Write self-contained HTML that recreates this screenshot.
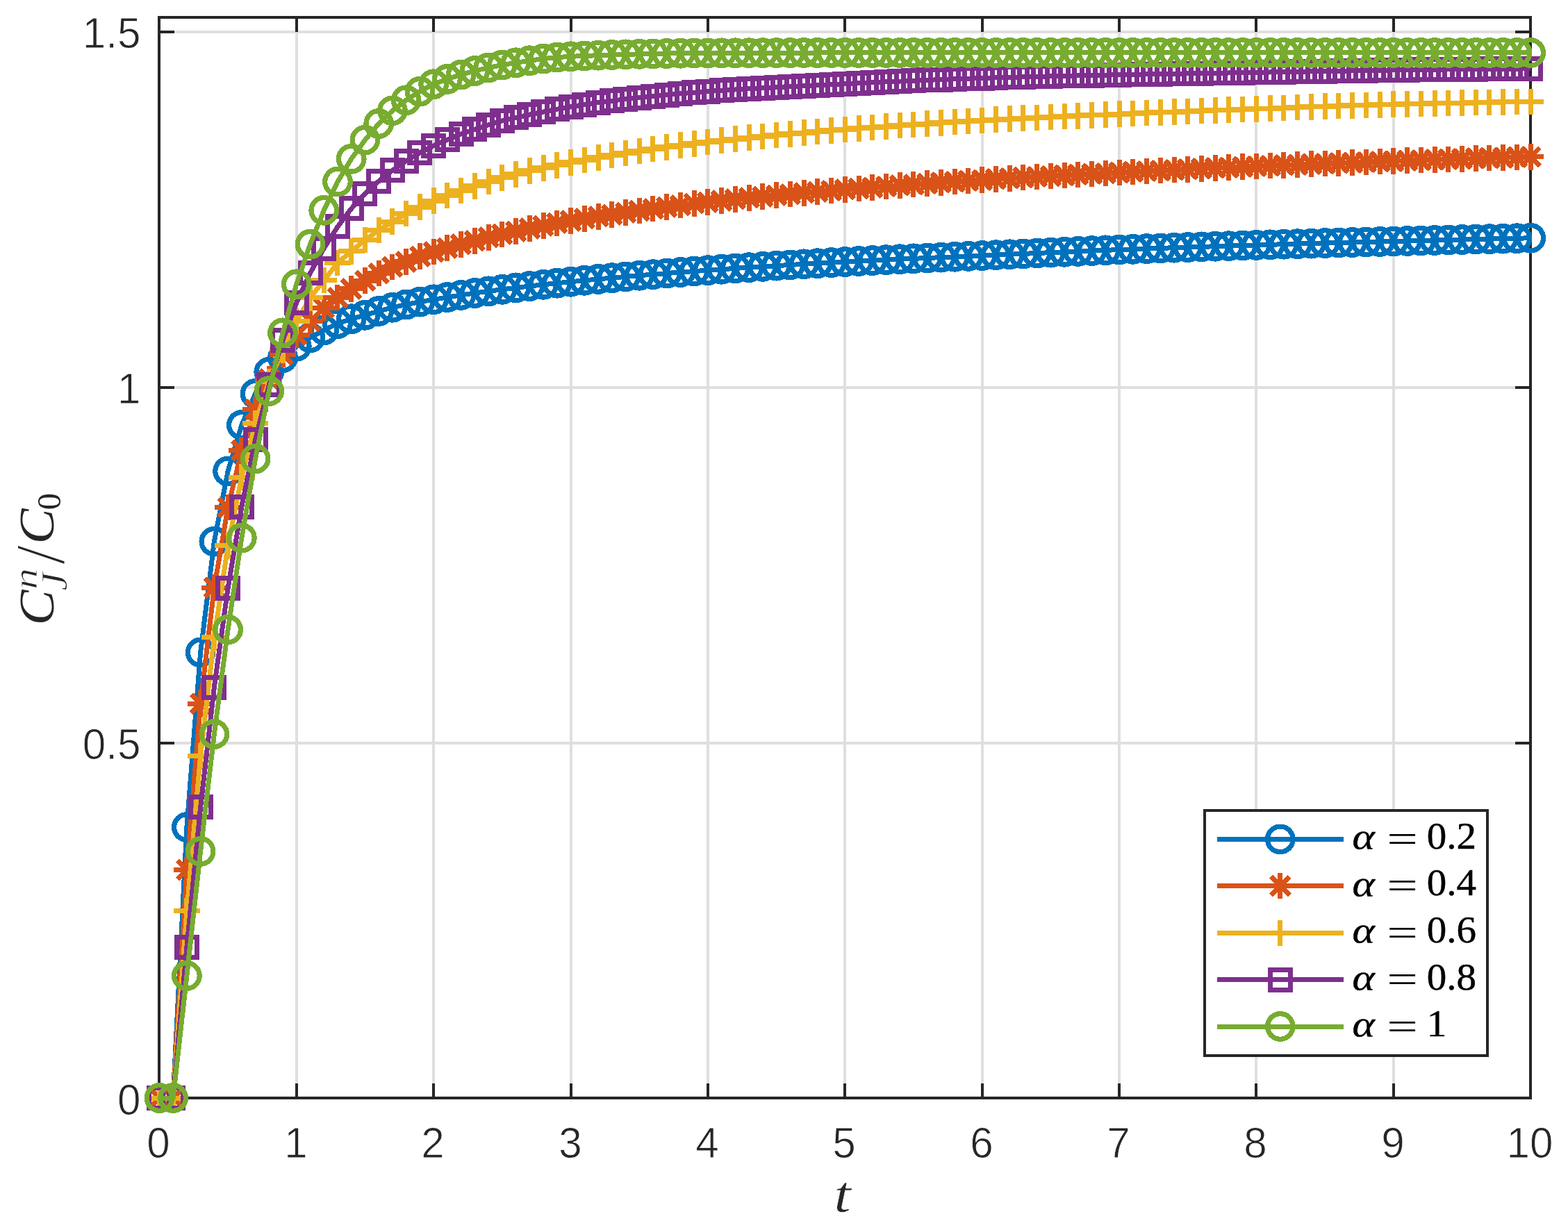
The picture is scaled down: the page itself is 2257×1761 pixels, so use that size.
<!DOCTYPE html>
<html lang="en"><head><meta charset="utf-8"><title>C_J^n/C_0 versus t</title>
<style>html,body{margin:0;padding:0;background:#fff;overflow:hidden}svg{display:block}.tk{font-family:"Liberation Sans",sans-serif;font-size:62.4px;fill:#262626;stroke:#fff;stroke-width:0.9px}.lr{font-family:"Liberation Serif",serif;fill:#000;stroke:#000;stroke-width:0.5px}.li{font-family:"Liberation Serif",serif;font-style:italic;fill:#000;stroke:#000;stroke-width:0.5px}.le{font-family:"Liberation Serif",serif;fill:#000}.ar{font-family:"Liberation Serif",serif;fill:#262626}.ai{font-family:"Liberation Serif",serif;font-style:italic;fill:#262626}.er{font-family:"Liberation Serif",serif;font-style:italic;fill:#262626;stroke:#fff;stroke-width:0.9px}.sl{font-family:"Liberation Serif",serif;font-style:italic;fill:#262626}</style></head><body>
<svg width="2257" height="1761" viewBox="0 0 2257 1761" role="img" aria-label="Plot of C_J^n/C_0 versus t for alpha = 0.2, 0.4, 0.6, 0.8 and 1">
<rect x="0" y="0" width="2257" height="1761" fill="#ffffff"/>
<defs>
<circle id="m0" cx="0" cy="0" r="18.3" fill="none" stroke="#0072bd" stroke-width="7.2"/>
<path id="m1" d="M0 -18.8V18.8M-18.8 0H18.8M-13.29 -13.29L13.29 13.29M-13.29 13.29L13.29 -13.29" fill="none" stroke="#d95319" stroke-width="7"/>
<path id="m2" d="M0 -18.8V18.8M-18.8 0H18.8" fill="none" stroke="#edb120" stroke-width="7"/>
<rect id="m3" x="-14.5" y="-14.5" width="29.0" height="29.0" fill="none" stroke="#7e2f8e" stroke-width="7"/>
<circle id="m4" cx="0" cy="0" r="18.3" fill="none" stroke="#77ac30" stroke-width="7.2"/>
</defs>
<path d="M427 25V1581M624 25V1581M822 25V1581M1019 25V1581M1216 25V1581M1414 25V1581M1611 25V1581M1808 25V1581M2006 25V1581M229 1070H2203M229 558H2203M229 46H2203" fill="none" stroke="#dfdfdf" stroke-width="4" shape-rendering="crispEdges"/>
<path d="M427 1581v-21M427 25v21M624 1581v-21M624 25v21M822 1581v-21M822 25v21M1019 1581v-21M1019 25v21M1216 1581v-21M1216 25v21M1414 1581v-21M1414 25v21M1611 1581v-21M1611 25v21M1808 1581v-21M1808 25v21M2006 1581v-21M2006 25v21M229 1070h22M2203 1070h-22M229 558h22M2203 558h-22M229 46h22M2203 46h-22" fill="none" stroke="#262626" stroke-width="4" shape-rendering="crispEdges"/>
<rect x="229" y="25" width="1974" height="1556" fill="none" stroke="#262626" stroke-width="4" shape-rendering="crispEdges"/>
<g shape-rendering="crispEdges">
<polyline points="229.4,1581 249.14,1581 268.88,1191.11 288.61,939.37 308.35,779.73 328.09,678.42 347.83,611.91 367.57,566.88 387.3,535.67 407.04,515.2 426.78,498.83 446.52,486.34 466.26,475.29 485.99,466.08 505.73,459.23 525.47,453.8 545.21,447.97 564.95,442.75 584.68,438.45 604.42,434.67 624.16,431.29 643.9,428.04 663.64,424.94 683.37,422.02 703.11,419.32 722.85,416.8 742.59,414.38 762.33,412.05 782.06,409.82 801.8,407.71 821.54,405.71 841.28,403.8 861.02,401.94 880.75,400.15 900.49,398.42 920.23,396.74 939.97,395.11 959.71,393.54 979.44,392.02 999.18,390.55 1018.92,389.13 1038.66,387.75 1058.4,386.41 1078.13,385.12 1097.87,383.86 1117.61,382.63 1137.35,381.45 1157.09,380.3 1176.82,379.18 1196.56,378.1 1216.3,377.05 1236.04,376.04 1255.78,375.07 1275.51,374.14 1295.25,373.24 1314.99,372.35 1334.73,371.49 1354.47,370.63 1374.2,369.77 1393.94,368.91 1413.68,368.05 1433.42,367.17 1453.16,366.28 1472.89,365.4 1492.63,364.51 1512.37,363.64 1532.11,362.78 1551.85,361.93 1571.58,361.11 1591.32,360.32 1611.06,359.55 1630.8,358.82 1650.54,358.1 1670.27,357.4 1690.01,356.71 1709.75,356.04 1729.49,355.39 1749.23,354.75 1768.96,354.12 1788.7,353.5 1808.44,352.9 1828.18,352.31 1847.92,351.73 1867.65,351.17 1887.39,350.62 1907.13,350.07 1926.87,349.54 1946.61,349.01 1966.34,348.5 1986.08,347.98 2005.82,347.48 2025.56,346.98 2045.3,346.48 2065.03,345.99 2084.77,345.51 2104.51,345.04 2124.25,344.57 2143.99,344.11 2163.72,343.66 2183.46,343.21 2203.2,342.77" fill="none" stroke="#0072bd" stroke-width="7.0" stroke-linejoin="round"/>
<use href="#m0" x="229.4" y="1581"/><use href="#m0" x="249.14" y="1581"/><use href="#m0" x="268.88" y="1191.11"/><use href="#m0" x="288.61" y="939.37"/><use href="#m0" x="308.35" y="779.73"/><use href="#m0" x="328.09" y="678.42"/><use href="#m0" x="347.83" y="611.91"/><use href="#m0" x="367.57" y="566.88"/><use href="#m0" x="387.3" y="535.67"/><use href="#m0" x="407.04" y="515.2"/><use href="#m0" x="426.78" y="498.83"/><use href="#m0" x="446.52" y="486.34"/><use href="#m0" x="466.26" y="475.29"/><use href="#m0" x="485.99" y="466.08"/><use href="#m0" x="505.73" y="459.23"/><use href="#m0" x="525.47" y="453.8"/><use href="#m0" x="545.21" y="447.97"/><use href="#m0" x="564.95" y="442.75"/><use href="#m0" x="584.68" y="438.45"/><use href="#m0" x="604.42" y="434.67"/><use href="#m0" x="624.16" y="431.29"/><use href="#m0" x="643.9" y="428.04"/><use href="#m0" x="663.64" y="424.94"/><use href="#m0" x="683.37" y="422.02"/><use href="#m0" x="703.11" y="419.32"/><use href="#m0" x="722.85" y="416.8"/><use href="#m0" x="742.59" y="414.38"/><use href="#m0" x="762.33" y="412.05"/><use href="#m0" x="782.06" y="409.82"/><use href="#m0" x="801.8" y="407.71"/><use href="#m0" x="821.54" y="405.71"/><use href="#m0" x="841.28" y="403.8"/><use href="#m0" x="861.02" y="401.94"/><use href="#m0" x="880.75" y="400.15"/><use href="#m0" x="900.49" y="398.42"/><use href="#m0" x="920.23" y="396.74"/><use href="#m0" x="939.97" y="395.11"/><use href="#m0" x="959.71" y="393.54"/><use href="#m0" x="979.44" y="392.02"/><use href="#m0" x="999.18" y="390.55"/><use href="#m0" x="1018.92" y="389.13"/><use href="#m0" x="1038.66" y="387.75"/><use href="#m0" x="1058.4" y="386.41"/><use href="#m0" x="1078.13" y="385.12"/><use href="#m0" x="1097.87" y="383.86"/><use href="#m0" x="1117.61" y="382.63"/><use href="#m0" x="1137.35" y="381.45"/><use href="#m0" x="1157.09" y="380.3"/><use href="#m0" x="1176.82" y="379.18"/><use href="#m0" x="1196.56" y="378.1"/><use href="#m0" x="1216.3" y="377.05"/><use href="#m0" x="1236.04" y="376.04"/><use href="#m0" x="1255.78" y="375.07"/><use href="#m0" x="1275.51" y="374.14"/><use href="#m0" x="1295.25" y="373.24"/><use href="#m0" x="1314.99" y="372.35"/><use href="#m0" x="1334.73" y="371.49"/><use href="#m0" x="1354.47" y="370.63"/><use href="#m0" x="1374.2" y="369.77"/><use href="#m0" x="1393.94" y="368.91"/><use href="#m0" x="1413.68" y="368.05"/><use href="#m0" x="1433.42" y="367.17"/><use href="#m0" x="1453.16" y="366.28"/><use href="#m0" x="1472.89" y="365.4"/><use href="#m0" x="1492.63" y="364.51"/><use href="#m0" x="1512.37" y="363.64"/><use href="#m0" x="1532.11" y="362.78"/><use href="#m0" x="1551.85" y="361.93"/><use href="#m0" x="1571.58" y="361.11"/><use href="#m0" x="1591.32" y="360.32"/><use href="#m0" x="1611.06" y="359.55"/><use href="#m0" x="1630.8" y="358.82"/><use href="#m0" x="1650.54" y="358.1"/><use href="#m0" x="1670.27" y="357.4"/><use href="#m0" x="1690.01" y="356.71"/><use href="#m0" x="1709.75" y="356.04"/><use href="#m0" x="1729.49" y="355.39"/><use href="#m0" x="1749.23" y="354.75"/><use href="#m0" x="1768.96" y="354.12"/><use href="#m0" x="1788.7" y="353.5"/><use href="#m0" x="1808.44" y="352.9"/><use href="#m0" x="1828.18" y="352.31"/><use href="#m0" x="1847.92" y="351.73"/><use href="#m0" x="1867.65" y="351.17"/><use href="#m0" x="1887.39" y="350.62"/><use href="#m0" x="1907.13" y="350.07"/><use href="#m0" x="1926.87" y="349.54"/><use href="#m0" x="1946.61" y="349.01"/><use href="#m0" x="1966.34" y="348.5"/><use href="#m0" x="1986.08" y="347.98"/><use href="#m0" x="2005.82" y="347.48"/><use href="#m0" x="2025.56" y="346.98"/><use href="#m0" x="2045.3" y="346.48"/><use href="#m0" x="2065.03" y="345.99"/><use href="#m0" x="2084.77" y="345.51"/><use href="#m0" x="2104.51" y="345.04"/><use href="#m0" x="2124.25" y="344.57"/><use href="#m0" x="2143.99" y="344.11"/><use href="#m0" x="2163.72" y="343.66"/><use href="#m0" x="2183.46" y="343.21"/><use href="#m0" x="2203.2" y="342.77"/>
</g>
<g shape-rendering="crispEdges">
<polyline points="229.4,1581 249.14,1581 268.88,1252.51 288.61,1013.05 308.35,846.25 328.09,730.61 347.83,648.75 367.57,589.9 387.3,545.39 407.04,510.6 426.78,482.56 446.52,462.5 466.26,443.67 485.99,428.63 505.73,415.79 525.47,404.17 545.21,393.63 564.95,384.42 584.68,376.85 604.42,369.27 624.16,362.52 643.9,356.98 663.64,351.73 683.37,346.75 703.11,342.02 722.85,337.52 742.59,333.25 762.33,329.17 782.06,325.29 801.8,321.57 821.54,318.01 841.28,314.72 861.02,311.73 880.75,308.9 900.49,306.1 920.23,303.35 939.97,300.67 959.71,298.07 979.44,295.57 999.18,293.21 1018.92,290.99 1038.66,288.9 1058.4,286.88 1078.13,284.95 1097.87,283.08 1117.61,281.27 1137.35,279.52 1157.09,277.82 1176.82,276.17 1196.56,274.56 1216.3,272.98 1236.04,271.44 1255.78,269.93 1275.51,268.46 1295.25,267.03 1314.99,265.63 1334.73,264.27 1354.47,262.94 1374.2,261.65 1393.94,260.39 1413.68,259.16 1433.42,257.97 1453.16,256.81 1472.89,255.68 1492.63,254.58 1512.37,253.51 1532.11,252.45 1551.85,251.42 1571.58,250.4 1591.32,249.41 1611.06,248.42 1630.8,247.45 1650.54,246.49 1670.27,245.55 1690.01,244.62 1709.75,243.71 1729.49,242.82 1749.23,241.94 1768.96,241.08 1788.7,240.24 1808.44,239.41 1828.18,238.6 1847.92,237.81 1867.65,237.02 1887.39,236.26 1907.13,235.5 1926.87,234.76 1946.61,234.03 1966.34,233.32 1986.08,232.63 2005.82,231.94 2025.56,231.28 2045.3,230.62 2065.03,229.97 2084.77,229.34 2104.51,228.72 2124.25,228.11 2143.99,227.51 2163.72,226.93 2183.46,226.36 2203.2,225.8" fill="none" stroke="#d95319" stroke-width="7.0" stroke-linejoin="round"/>
<use href="#m1" x="229.4" y="1581"/><use href="#m1" x="249.14" y="1581"/><use href="#m1" x="268.88" y="1252.51"/><use href="#m1" x="288.61" y="1013.05"/><use href="#m1" x="308.35" y="846.25"/><use href="#m1" x="328.09" y="730.61"/><use href="#m1" x="347.83" y="648.75"/><use href="#m1" x="367.57" y="589.9"/><use href="#m1" x="387.3" y="545.39"/><use href="#m1" x="407.04" y="510.6"/><use href="#m1" x="426.78" y="482.56"/><use href="#m1" x="446.52" y="462.5"/><use href="#m1" x="466.26" y="443.67"/><use href="#m1" x="485.99" y="428.63"/><use href="#m1" x="505.73" y="415.79"/><use href="#m1" x="525.47" y="404.17"/><use href="#m1" x="545.21" y="393.63"/><use href="#m1" x="564.95" y="384.42"/><use href="#m1" x="584.68" y="376.85"/><use href="#m1" x="604.42" y="369.27"/><use href="#m1" x="624.16" y="362.52"/><use href="#m1" x="643.9" y="356.98"/><use href="#m1" x="663.64" y="351.73"/><use href="#m1" x="683.37" y="346.75"/><use href="#m1" x="703.11" y="342.02"/><use href="#m1" x="722.85" y="337.52"/><use href="#m1" x="742.59" y="333.25"/><use href="#m1" x="762.33" y="329.17"/><use href="#m1" x="782.06" y="325.29"/><use href="#m1" x="801.8" y="321.57"/><use href="#m1" x="821.54" y="318.01"/><use href="#m1" x="841.28" y="314.72"/><use href="#m1" x="861.02" y="311.73"/><use href="#m1" x="880.75" y="308.9"/><use href="#m1" x="900.49" y="306.1"/><use href="#m1" x="920.23" y="303.35"/><use href="#m1" x="939.97" y="300.67"/><use href="#m1" x="959.71" y="298.07"/><use href="#m1" x="979.44" y="295.57"/><use href="#m1" x="999.18" y="293.21"/><use href="#m1" x="1018.92" y="290.99"/><use href="#m1" x="1038.66" y="288.9"/><use href="#m1" x="1058.4" y="286.88"/><use href="#m1" x="1078.13" y="284.95"/><use href="#m1" x="1097.87" y="283.08"/><use href="#m1" x="1117.61" y="281.27"/><use href="#m1" x="1137.35" y="279.52"/><use href="#m1" x="1157.09" y="277.82"/><use href="#m1" x="1176.82" y="276.17"/><use href="#m1" x="1196.56" y="274.56"/><use href="#m1" x="1216.3" y="272.98"/><use href="#m1" x="1236.04" y="271.44"/><use href="#m1" x="1255.78" y="269.93"/><use href="#m1" x="1275.51" y="268.46"/><use href="#m1" x="1295.25" y="267.03"/><use href="#m1" x="1314.99" y="265.63"/><use href="#m1" x="1334.73" y="264.27"/><use href="#m1" x="1354.47" y="262.94"/><use href="#m1" x="1374.2" y="261.65"/><use href="#m1" x="1393.94" y="260.39"/><use href="#m1" x="1413.68" y="259.16"/><use href="#m1" x="1433.42" y="257.97"/><use href="#m1" x="1453.16" y="256.81"/><use href="#m1" x="1472.89" y="255.68"/><use href="#m1" x="1492.63" y="254.58"/><use href="#m1" x="1512.37" y="253.51"/><use href="#m1" x="1532.11" y="252.45"/><use href="#m1" x="1551.85" y="251.42"/><use href="#m1" x="1571.58" y="250.4"/><use href="#m1" x="1591.32" y="249.41"/><use href="#m1" x="1611.06" y="248.42"/><use href="#m1" x="1630.8" y="247.45"/><use href="#m1" x="1650.54" y="246.49"/><use href="#m1" x="1670.27" y="245.55"/><use href="#m1" x="1690.01" y="244.62"/><use href="#m1" x="1709.75" y="243.71"/><use href="#m1" x="1729.49" y="242.82"/><use href="#m1" x="1749.23" y="241.94"/><use href="#m1" x="1768.96" y="241.08"/><use href="#m1" x="1788.7" y="240.24"/><use href="#m1" x="1808.44" y="239.41"/><use href="#m1" x="1828.18" y="238.6"/><use href="#m1" x="1847.92" y="237.81"/><use href="#m1" x="1867.65" y="237.02"/><use href="#m1" x="1887.39" y="236.26"/><use href="#m1" x="1907.13" y="235.5"/><use href="#m1" x="1926.87" y="234.76"/><use href="#m1" x="1946.61" y="234.03"/><use href="#m1" x="1966.34" y="233.32"/><use href="#m1" x="1986.08" y="232.63"/><use href="#m1" x="2005.82" y="231.94"/><use href="#m1" x="2025.56" y="231.28"/><use href="#m1" x="2045.3" y="230.62"/><use href="#m1" x="2065.03" y="229.97"/><use href="#m1" x="2084.77" y="229.34"/><use href="#m1" x="2104.51" y="228.72"/><use href="#m1" x="2124.25" y="228.11"/><use href="#m1" x="2143.99" y="227.51"/><use href="#m1" x="2163.72" y="226.93"/><use href="#m1" x="2183.46" y="226.36"/><use href="#m1" x="2203.2" y="225.8"/>
</g>
<g shape-rendering="crispEdges">
<polyline points="229.4,1581 249.14,1581 268.88,1311.86 288.61,1088.78 308.35,917.88 328.09,785.87 347.83,687.02 367.57,609.35 387.3,549.48 407.04,503.95 426.78,462.5 446.52,428.73 466.26,403.66 485.99,378.59 505.73,361.7 525.47,345.64 545.21,331.51 564.95,319.23 584.68,307.67 604.42,298.26 624.16,289.25 643.9,281.59 663.64,274.51 683.37,267.76 703.11,261.52 722.85,255.79 742.59,250.77 762.33,245.76 782.06,241.87 801.8,237.78 821.54,233.79 841.28,230.31 861.02,226.93 880.75,223.66 900.49,220.51 920.23,217.48 939.97,214.58 959.71,211.82 979.44,209.2 999.18,206.73 1018.92,204.42 1038.66,202.24 1058.4,200.17 1078.13,198.2 1097.87,196.32 1117.61,194.52 1137.35,192.79 1157.09,191.12 1176.82,189.51 1196.56,187.94 1216.3,186.41 1236.04,184.91 1255.78,183.45 1275.51,182.02 1295.25,180.64 1314.99,179.3 1334.73,178.01 1354.47,176.76 1374.2,175.56 1393.94,174.41 1413.68,173.31 1433.42,172.26 1453.16,171.25 1472.89,170.28 1492.63,169.34 1512.37,168.44 1532.11,167.56 1551.85,166.7 1571.58,165.85 1591.32,165.02 1611.06,164.2 1630.8,163.39 1650.54,162.59 1670.27,161.82 1690.01,161.05 1709.75,160.3 1729.49,159.57 1749.23,158.84 1768.96,158.13 1788.7,157.43 1808.44,156.73 1828.18,156.03 1847.92,155.33 1867.65,154.62 1887.39,153.93 1907.13,153.25 1926.87,152.59 1946.61,151.95 1966.34,151.35 1986.08,150.79 2005.82,150.28 2025.56,149.8 2045.3,149.34 2065.03,148.89 2084.77,148.47 2104.51,148.06 2124.25,147.67 2143.99,147.31 2163.72,146.98 2183.46,146.67 2203.2,146.39" fill="none" stroke="#edb120" stroke-width="7.0" stroke-linejoin="round"/>
<use href="#m2" x="229.4" y="1581"/><use href="#m2" x="249.14" y="1581"/><use href="#m2" x="268.88" y="1311.86"/><use href="#m2" x="288.61" y="1088.78"/><use href="#m2" x="308.35" y="917.88"/><use href="#m2" x="328.09" y="785.87"/><use href="#m2" x="347.83" y="687.02"/><use href="#m2" x="367.57" y="609.35"/><use href="#m2" x="387.3" y="549.48"/><use href="#m2" x="407.04" y="503.95"/><use href="#m2" x="426.78" y="462.5"/><use href="#m2" x="446.52" y="428.73"/><use href="#m2" x="466.26" y="403.66"/><use href="#m2" x="485.99" y="378.59"/><use href="#m2" x="505.73" y="361.7"/><use href="#m2" x="525.47" y="345.64"/><use href="#m2" x="545.21" y="331.51"/><use href="#m2" x="564.95" y="319.23"/><use href="#m2" x="584.68" y="307.67"/><use href="#m2" x="604.42" y="298.26"/><use href="#m2" x="624.16" y="289.25"/><use href="#m2" x="643.9" y="281.59"/><use href="#m2" x="663.64" y="274.51"/><use href="#m2" x="683.37" y="267.76"/><use href="#m2" x="703.11" y="261.52"/><use href="#m2" x="722.85" y="255.79"/><use href="#m2" x="742.59" y="250.77"/><use href="#m2" x="762.33" y="245.76"/><use href="#m2" x="782.06" y="241.87"/><use href="#m2" x="801.8" y="237.78"/><use href="#m2" x="821.54" y="233.79"/><use href="#m2" x="841.28" y="230.31"/><use href="#m2" x="861.02" y="226.93"/><use href="#m2" x="880.75" y="223.66"/><use href="#m2" x="900.49" y="220.51"/><use href="#m2" x="920.23" y="217.48"/><use href="#m2" x="939.97" y="214.58"/><use href="#m2" x="959.71" y="211.82"/><use href="#m2" x="979.44" y="209.2"/><use href="#m2" x="999.18" y="206.73"/><use href="#m2" x="1018.92" y="204.42"/><use href="#m2" x="1038.66" y="202.24"/><use href="#m2" x="1058.4" y="200.17"/><use href="#m2" x="1078.13" y="198.2"/><use href="#m2" x="1097.87" y="196.32"/><use href="#m2" x="1117.61" y="194.52"/><use href="#m2" x="1137.35" y="192.79"/><use href="#m2" x="1157.09" y="191.12"/><use href="#m2" x="1176.82" y="189.51"/><use href="#m2" x="1196.56" y="187.94"/><use href="#m2" x="1216.3" y="186.41"/><use href="#m2" x="1236.04" y="184.91"/><use href="#m2" x="1255.78" y="183.45"/><use href="#m2" x="1275.51" y="182.02"/><use href="#m2" x="1295.25" y="180.64"/><use href="#m2" x="1314.99" y="179.3"/><use href="#m2" x="1334.73" y="178.01"/><use href="#m2" x="1354.47" y="176.76"/><use href="#m2" x="1374.2" y="175.56"/><use href="#m2" x="1393.94" y="174.41"/><use href="#m2" x="1413.68" y="173.31"/><use href="#m2" x="1433.42" y="172.26"/><use href="#m2" x="1453.16" y="171.25"/><use href="#m2" x="1472.89" y="170.28"/><use href="#m2" x="1492.63" y="169.34"/><use href="#m2" x="1512.37" y="168.44"/><use href="#m2" x="1532.11" y="167.56"/><use href="#m2" x="1551.85" y="166.7"/><use href="#m2" x="1571.58" y="165.85"/><use href="#m2" x="1591.32" y="165.02"/><use href="#m2" x="1611.06" y="164.2"/><use href="#m2" x="1630.8" y="163.39"/><use href="#m2" x="1650.54" y="162.59"/><use href="#m2" x="1670.27" y="161.82"/><use href="#m2" x="1690.01" y="161.05"/><use href="#m2" x="1709.75" y="160.3"/><use href="#m2" x="1729.49" y="159.57"/><use href="#m2" x="1749.23" y="158.84"/><use href="#m2" x="1768.96" y="158.13"/><use href="#m2" x="1788.7" y="157.43"/><use href="#m2" x="1808.44" y="156.73"/><use href="#m2" x="1828.18" y="156.03"/><use href="#m2" x="1847.92" y="155.33"/><use href="#m2" x="1867.65" y="154.62"/><use href="#m2" x="1887.39" y="153.93"/><use href="#m2" x="1907.13" y="153.25"/><use href="#m2" x="1926.87" y="152.59"/><use href="#m2" x="1946.61" y="151.95"/><use href="#m2" x="1966.34" y="151.35"/><use href="#m2" x="1986.08" y="150.79"/><use href="#m2" x="2005.82" y="150.28"/><use href="#m2" x="2025.56" y="149.8"/><use href="#m2" x="2045.3" y="149.34"/><use href="#m2" x="2065.03" y="148.89"/><use href="#m2" x="2084.77" y="148.47"/><use href="#m2" x="2104.51" y="148.06"/><use href="#m2" x="2124.25" y="147.67"/><use href="#m2" x="2143.99" y="147.31"/><use href="#m2" x="2163.72" y="146.98"/><use href="#m2" x="2183.46" y="146.67"/><use href="#m2" x="2203.2" y="146.39"/>
</g>
<g shape-rendering="crispEdges">
<polyline points="229.4,1581 249.14,1581 268.88,1364.05 288.61,1162.46 308.35,989.52 328.09,846.76 347.83,729.59 367.57,632.88 387.3,554.19 407.04,490.13 426.78,435.89 446.52,393.12 466.26,357.51 485.99,326.4 505.73,300.4 525.47,278.61 545.21,260.9 564.95,245.35 584.68,231.74 604.42,219.97 624.16,209.74 643.9,201.14 663.64,193.06 683.37,186.3 703.11,179.75 722.85,173.92 742.59,169.32 762.33,165.02 782.06,161.03 801.8,157.24 821.54,153.86 841.28,150.56 861.02,147.62 880.75,145.14 900.49,142.8 920.23,140.59 939.97,138.52 959.71,136.59 979.44,134.81 999.18,133.16 1018.92,131.66 1038.66,130.28 1058.4,128.99 1078.13,127.78 1097.87,126.64 1117.61,125.57 1137.35,124.54 1157.09,123.55 1176.82,122.59 1196.56,121.64 1216.3,120.71 1236.04,119.77 1255.78,118.85 1275.51,117.94 1295.25,117.06 1314.99,116.2 1334.73,115.38 1354.47,114.59 1374.2,113.85 1393.94,113.16 1413.68,112.52 1433.42,111.93 1453.16,111.37 1472.89,110.84 1492.63,110.34 1512.37,109.86 1532.11,109.39 1551.85,108.95 1571.58,108.53 1591.32,108.11 1611.06,107.71 1630.8,107.33 1650.54,106.96 1670.27,106.61 1690.01,106.28 1709.75,105.95 1729.49,105.63 1749.23,105.31 1768.96,104.99 1788.7,104.67 1808.44,104.33 1828.18,103.99 1847.92,103.63 1867.65,103.27 1887.39,102.9 1907.13,102.54 1926.87,102.19 1946.61,101.85 1966.34,101.53 1986.08,101.23 2005.82,100.96 2025.56,100.71 2045.3,100.46 2065.03,100.23 2084.77,100 2104.51,99.79 2124.25,99.59 2143.99,99.4 2163.72,99.22 2183.46,99.06 2203.2,98.91" fill="none" stroke="#7e2f8e" stroke-width="7.0" stroke-linejoin="round"/>
<use href="#m3" x="229.4" y="1581"/><use href="#m3" x="249.14" y="1581"/><use href="#m3" x="268.88" y="1364.05"/><use href="#m3" x="288.61" y="1162.46"/><use href="#m3" x="308.35" y="989.52"/><use href="#m3" x="328.09" y="846.76"/><use href="#m3" x="347.83" y="729.59"/><use href="#m3" x="367.57" y="632.88"/><use href="#m3" x="387.3" y="554.19"/><use href="#m3" x="407.04" y="490.13"/><use href="#m3" x="426.78" y="435.89"/><use href="#m3" x="446.52" y="393.12"/><use href="#m3" x="466.26" y="357.51"/><use href="#m3" x="485.99" y="326.4"/><use href="#m3" x="505.73" y="300.4"/><use href="#m3" x="525.47" y="278.61"/><use href="#m3" x="545.21" y="260.9"/><use href="#m3" x="564.95" y="245.35"/><use href="#m3" x="584.68" y="231.74"/><use href="#m3" x="604.42" y="219.97"/><use href="#m3" x="624.16" y="209.74"/><use href="#m3" x="643.9" y="201.14"/><use href="#m3" x="663.64" y="193.06"/><use href="#m3" x="683.37" y="186.3"/><use href="#m3" x="703.11" y="179.75"/><use href="#m3" x="722.85" y="173.92"/><use href="#m3" x="742.59" y="169.32"/><use href="#m3" x="762.33" y="165.02"/><use href="#m3" x="782.06" y="161.03"/><use href="#m3" x="801.8" y="157.24"/><use href="#m3" x="821.54" y="153.86"/><use href="#m3" x="841.28" y="150.56"/><use href="#m3" x="861.02" y="147.62"/><use href="#m3" x="880.75" y="145.14"/><use href="#m3" x="900.49" y="142.8"/><use href="#m3" x="920.23" y="140.59"/><use href="#m3" x="939.97" y="138.52"/><use href="#m3" x="959.71" y="136.59"/><use href="#m3" x="979.44" y="134.81"/><use href="#m3" x="999.18" y="133.16"/><use href="#m3" x="1018.92" y="131.66"/><use href="#m3" x="1038.66" y="130.28"/><use href="#m3" x="1058.4" y="128.99"/><use href="#m3" x="1078.13" y="127.78"/><use href="#m3" x="1097.87" y="126.64"/><use href="#m3" x="1117.61" y="125.57"/><use href="#m3" x="1137.35" y="124.54"/><use href="#m3" x="1157.09" y="123.55"/><use href="#m3" x="1176.82" y="122.59"/><use href="#m3" x="1196.56" y="121.64"/><use href="#m3" x="1216.3" y="120.71"/><use href="#m3" x="1236.04" y="119.77"/><use href="#m3" x="1255.78" y="118.85"/><use href="#m3" x="1275.51" y="117.94"/><use href="#m3" x="1295.25" y="117.06"/><use href="#m3" x="1314.99" y="116.2"/><use href="#m3" x="1334.73" y="115.38"/><use href="#m3" x="1354.47" y="114.59"/><use href="#m3" x="1374.2" y="113.85"/><use href="#m3" x="1393.94" y="113.16"/><use href="#m3" x="1413.68" y="112.52"/><use href="#m3" x="1433.42" y="111.93"/><use href="#m3" x="1453.16" y="111.37"/><use href="#m3" x="1472.89" y="110.84"/><use href="#m3" x="1492.63" y="110.34"/><use href="#m3" x="1512.37" y="109.86"/><use href="#m3" x="1532.11" y="109.39"/><use href="#m3" x="1551.85" y="108.95"/><use href="#m3" x="1571.58" y="108.53"/><use href="#m3" x="1591.32" y="108.11"/><use href="#m3" x="1611.06" y="107.71"/><use href="#m3" x="1630.8" y="107.33"/><use href="#m3" x="1650.54" y="106.96"/><use href="#m3" x="1670.27" y="106.61"/><use href="#m3" x="1690.01" y="106.28"/><use href="#m3" x="1709.75" y="105.95"/><use href="#m3" x="1729.49" y="105.63"/><use href="#m3" x="1749.23" y="105.31"/><use href="#m3" x="1768.96" y="104.99"/><use href="#m3" x="1788.7" y="104.67"/><use href="#m3" x="1808.44" y="104.33"/><use href="#m3" x="1828.18" y="103.99"/><use href="#m3" x="1847.92" y="103.63"/><use href="#m3" x="1867.65" y="103.27"/><use href="#m3" x="1887.39" y="102.9"/><use href="#m3" x="1907.13" y="102.54"/><use href="#m3" x="1926.87" y="102.19"/><use href="#m3" x="1946.61" y="101.85"/><use href="#m3" x="1966.34" y="101.53"/><use href="#m3" x="1986.08" y="101.23"/><use href="#m3" x="2005.82" y="100.96"/><use href="#m3" x="2025.56" y="100.71"/><use href="#m3" x="2045.3" y="100.46"/><use href="#m3" x="2065.03" y="100.23"/><use href="#m3" x="2084.77" y="100"/><use href="#m3" x="2104.51" y="99.79"/><use href="#m3" x="2124.25" y="99.59"/><use href="#m3" x="2143.99" y="99.4"/><use href="#m3" x="2163.72" y="99.22"/><use href="#m3" x="2183.46" y="99.06"/><use href="#m3" x="2203.2" y="98.91"/>
</g>
<g shape-rendering="crispEdges">
<polyline points="229.4,1581 249.14,1581 268.88,1404.99 288.61,1225.9 308.35,1057.06 328.09,906.63 347.83,774.62 367.57,660.51 387.3,563.09 407.04,479.28 426.78,409.29 446.52,351.67 466.26,302.86 485.99,261.62 505.73,228.77 525.47,201.55 545.21,178.01 564.95,159.29 584.68,144.24 604.42,131.66 624.16,121.22 643.9,113.93 663.64,107.54 683.37,102.04 703.11,97.4 722.85,93.59 742.59,90.28 762.33,87.24 782.06,84.64 801.8,82.61 821.54,81.31 841.28,80.46 861.02,79.69 880.75,79 900.49,78.38 920.23,77.84 939.97,77.39 959.71,77.01 979.44,76.72 999.18,76.52 1018.92,76.4 1038.66,76.33 1058.4,76.26 1078.13,76.2 1097.87,76.14 1117.61,76.1 1137.35,76.06 1157.09,76.03 1176.82,76.01 1196.56,75.99 1216.3,75.99 1236.04,75.99 1255.78,75.99 1275.51,75.99 1295.25,75.99 1314.99,75.99 1334.73,75.99 1354.47,75.99 1374.2,75.99 1393.94,75.99 1413.68,75.99 1433.42,75.99 1453.16,75.99 1472.89,75.99 1492.63,75.99 1512.37,75.99 1532.11,75.99 1551.85,75.99 1571.58,75.99 1591.32,75.99 1611.06,75.99 1630.8,75.99 1650.54,75.99 1670.27,75.99 1690.01,75.99 1709.75,75.99 1729.49,75.99 1749.23,75.99 1768.96,75.99 1788.7,75.99 1808.44,75.99 1828.18,75.99 1847.92,75.99 1867.65,75.99 1887.39,75.99 1907.13,75.99 1926.87,75.99 1946.61,75.99 1966.34,75.99 1986.08,75.99 2005.82,75.99 2025.56,75.99 2045.3,75.99 2065.03,75.99 2084.77,75.99 2104.51,75.99 2124.25,75.99 2143.99,75.99 2163.72,75.99 2183.46,75.99 2203.2,75.99" fill="none" stroke="#77ac30" stroke-width="7.0" stroke-linejoin="round"/>
<use href="#m4" x="229.4" y="1581"/><use href="#m4" x="249.14" y="1581"/><use href="#m4" x="268.88" y="1404.99"/><use href="#m4" x="288.61" y="1225.9"/><use href="#m4" x="308.35" y="1057.06"/><use href="#m4" x="328.09" y="906.63"/><use href="#m4" x="347.83" y="774.62"/><use href="#m4" x="367.57" y="660.51"/><use href="#m4" x="387.3" y="563.09"/><use href="#m4" x="407.04" y="479.28"/><use href="#m4" x="426.78" y="409.29"/><use href="#m4" x="446.52" y="351.67"/><use href="#m4" x="466.26" y="302.86"/><use href="#m4" x="485.99" y="261.62"/><use href="#m4" x="505.73" y="228.77"/><use href="#m4" x="525.47" y="201.55"/><use href="#m4" x="545.21" y="178.01"/><use href="#m4" x="564.95" y="159.29"/><use href="#m4" x="584.68" y="144.24"/><use href="#m4" x="604.42" y="131.66"/><use href="#m4" x="624.16" y="121.22"/><use href="#m4" x="643.9" y="113.93"/><use href="#m4" x="663.64" y="107.54"/><use href="#m4" x="683.37" y="102.04"/><use href="#m4" x="703.11" y="97.4"/><use href="#m4" x="722.85" y="93.59"/><use href="#m4" x="742.59" y="90.28"/><use href="#m4" x="762.33" y="87.24"/><use href="#m4" x="782.06" y="84.64"/><use href="#m4" x="801.8" y="82.61"/><use href="#m4" x="821.54" y="81.31"/><use href="#m4" x="841.28" y="80.46"/><use href="#m4" x="861.02" y="79.69"/><use href="#m4" x="880.75" y="79"/><use href="#m4" x="900.49" y="78.38"/><use href="#m4" x="920.23" y="77.84"/><use href="#m4" x="939.97" y="77.39"/><use href="#m4" x="959.71" y="77.01"/><use href="#m4" x="979.44" y="76.72"/><use href="#m4" x="999.18" y="76.52"/><use href="#m4" x="1018.92" y="76.4"/><use href="#m4" x="1038.66" y="76.33"/><use href="#m4" x="1058.4" y="76.26"/><use href="#m4" x="1078.13" y="76.2"/><use href="#m4" x="1097.87" y="76.14"/><use href="#m4" x="1117.61" y="76.1"/><use href="#m4" x="1137.35" y="76.06"/><use href="#m4" x="1157.09" y="76.03"/><use href="#m4" x="1176.82" y="76.01"/><use href="#m4" x="1196.56" y="75.99"/><use href="#m4" x="1216.3" y="75.99"/><use href="#m4" x="1236.04" y="75.99"/><use href="#m4" x="1255.78" y="75.99"/><use href="#m4" x="1275.51" y="75.99"/><use href="#m4" x="1295.25" y="75.99"/><use href="#m4" x="1314.99" y="75.99"/><use href="#m4" x="1334.73" y="75.99"/><use href="#m4" x="1354.47" y="75.99"/><use href="#m4" x="1374.2" y="75.99"/><use href="#m4" x="1393.94" y="75.99"/><use href="#m4" x="1413.68" y="75.99"/><use href="#m4" x="1433.42" y="75.99"/><use href="#m4" x="1453.16" y="75.99"/><use href="#m4" x="1472.89" y="75.99"/><use href="#m4" x="1492.63" y="75.99"/><use href="#m4" x="1512.37" y="75.99"/><use href="#m4" x="1532.11" y="75.99"/><use href="#m4" x="1551.85" y="75.99"/><use href="#m4" x="1571.58" y="75.99"/><use href="#m4" x="1591.32" y="75.99"/><use href="#m4" x="1611.06" y="75.99"/><use href="#m4" x="1630.8" y="75.99"/><use href="#m4" x="1650.54" y="75.99"/><use href="#m4" x="1670.27" y="75.99"/><use href="#m4" x="1690.01" y="75.99"/><use href="#m4" x="1709.75" y="75.99"/><use href="#m4" x="1729.49" y="75.99"/><use href="#m4" x="1749.23" y="75.99"/><use href="#m4" x="1768.96" y="75.99"/><use href="#m4" x="1788.7" y="75.99"/><use href="#m4" x="1808.44" y="75.99"/><use href="#m4" x="1828.18" y="75.99"/><use href="#m4" x="1847.92" y="75.99"/><use href="#m4" x="1867.65" y="75.99"/><use href="#m4" x="1887.39" y="75.99"/><use href="#m4" x="1907.13" y="75.99"/><use href="#m4" x="1926.87" y="75.99"/><use href="#m4" x="1946.61" y="75.99"/><use href="#m4" x="1966.34" y="75.99"/><use href="#m4" x="1986.08" y="75.99"/><use href="#m4" x="2005.82" y="75.99"/><use href="#m4" x="2025.56" y="75.99"/><use href="#m4" x="2045.3" y="75.99"/><use href="#m4" x="2065.03" y="75.99"/><use href="#m4" x="2084.77" y="75.99"/><use href="#m4" x="2104.51" y="75.99"/><use href="#m4" x="2124.25" y="75.99"/><use href="#m4" x="2143.99" y="75.99"/><use href="#m4" x="2163.72" y="75.99"/><use href="#m4" x="2183.46" y="75.99"/><use href="#m4" x="2203.2" y="75.99"/>
</g>
<rect x="1734.0" y="1167.0" width="407.0" height="352.5" fill="#ffffff" stroke="#262626" stroke-width="4" shape-rendering="crispEdges"/>
<g shape-rendering="crispEdges"><path d="M1752 1208.4H1934" fill="none" stroke="#0072bd" stroke-width="7.0"/><use href="#m0" x="1842.8" y="1208.4"/></g>
<text class="li" font-size="53.5" transform="translate(1946.5 1222.3) scale(1.15 1)">α</text>
<text class="le" font-size="57" transform="translate(1996.2 1226.9) scale(1.39 1)">=</text>
<text class="lr" font-size="55.7" transform="translate(2053.8 1222) scale(1.0235 1)">0.2</text>
<g shape-rendering="crispEdges"><path d="M1752 1275.7H1934" fill="none" stroke="#d95319" stroke-width="7.0"/><use href="#m1" x="1842.8" y="1275.7"/></g>
<text class="li" font-size="53.5" transform="translate(1946.5 1289.6) scale(1.15 1)">α</text>
<text class="le" font-size="57" transform="translate(1996.2 1294.2) scale(1.39 1)">=</text>
<text class="lr" font-size="55.7" transform="translate(2053.8 1289.3) scale(1.0235 1)">0.4</text>
<g shape-rendering="crispEdges"><path d="M1752 1343.5H1934" fill="none" stroke="#edb120" stroke-width="7.0"/><use href="#m2" x="1842.8" y="1343.5"/></g>
<text class="li" font-size="53.5" transform="translate(1946.5 1357.4) scale(1.15 1)">α</text>
<text class="le" font-size="57" transform="translate(1996.2 1362) scale(1.39 1)">=</text>
<text class="lr" font-size="55.7" transform="translate(2053.8 1357.1) scale(1.0235 1)">0.6</text>
<g shape-rendering="crispEdges"><path d="M1752 1410.9H1934" fill="none" stroke="#7e2f8e" stroke-width="7.0"/><use href="#m3" x="1842.8" y="1410.9"/></g>
<text class="li" font-size="53.5" transform="translate(1946.5 1424.8) scale(1.15 1)">α</text>
<text class="le" font-size="57" transform="translate(1996.2 1429.4) scale(1.39 1)">=</text>
<text class="lr" font-size="55.7" transform="translate(2053.8 1424.5) scale(1.0235 1)">0.8</text>
<g shape-rendering="crispEdges"><path d="M1752 1478H1934" fill="none" stroke="#77ac30" stroke-width="7.0"/><use href="#m4" x="1842.8" y="1478"/></g>
<text class="li" font-size="53.5" transform="translate(1946.5 1491.9) scale(1.15 1)">α</text>
<text class="le" font-size="57" transform="translate(1996.2 1496.5) scale(1.39 1)">=</text>
<text class="lr" font-size="55.7" transform="translate(2053.8 1491.6) scale(1.0235 1)">1</text>
<text class="tk" text-anchor="middle" transform="translate(228 1667) scale(0.965 1)">0</text>
<text class="tk" text-anchor="middle" transform="translate(426 1667) scale(0.965 1)">1</text>
<text class="tk" text-anchor="middle" transform="translate(623 1667) scale(0.965 1)">2</text>
<text class="tk" text-anchor="middle" transform="translate(821 1667) scale(0.965 1)">3</text>
<text class="tk" text-anchor="middle" transform="translate(1018 1667) scale(0.965 1)">4</text>
<text class="tk" text-anchor="middle" transform="translate(1215 1667) scale(0.965 1)">5</text>
<text class="tk" text-anchor="middle" transform="translate(1413 1667) scale(0.965 1)">6</text>
<text class="tk" text-anchor="middle" transform="translate(1610 1667) scale(0.965 1)">7</text>
<text class="tk" text-anchor="middle" transform="translate(1807 1667) scale(0.965 1)">8</text>
<text class="tk" text-anchor="middle" transform="translate(2005 1667) scale(0.965 1)">9</text>
<text class="tk" text-anchor="middle" transform="translate(2202 1667) scale(0.965 1)">10</text>
<text class="tk" text-anchor="end" transform="translate(202.5 1605) scale(0.965 1)">0</text>
<text class="tk" text-anchor="end" transform="translate(202.5 1093) scale(0.965 1)">0.5</text>
<text class="tk" text-anchor="end" transform="translate(202.5 581) scale(0.965 1)">1</text>
<text class="tk" text-anchor="end" transform="translate(202.5 69) scale(0.965 1)">1.5</text>
<text class="er" style="stroke-width:0.45px" font-size="73" transform="translate(1200.6 1744.8) scale(1.19 1)">t</text>
<g transform="translate(76.8 900.0) rotate(-90)">
<text class="ai" font-size="72.5" transform="translate(-0.36 0) scale(1.05 1.0)">C</text>
<text class="er" font-size="47.5" transform="translate(51.18 -24) scale(1.3 1.0)">n</text>
<text class="er" font-size="52.5" transform="translate(49.42 18.7) scale(1.12 1.0)">J</text>
<text class="sl" font-size="80" transform="translate(91.37 14.6) scale(0.8075 1.2406)">/</text>
<text class="ai" font-size="72.5" transform="translate(116.84 0) scale(1.05 1.0)">C</text>
<text class="ar" font-size="48.5" transform="translate(165.76 9.8) scale(1.0 1.0)">0</text>
</g>
</svg></body></html>
